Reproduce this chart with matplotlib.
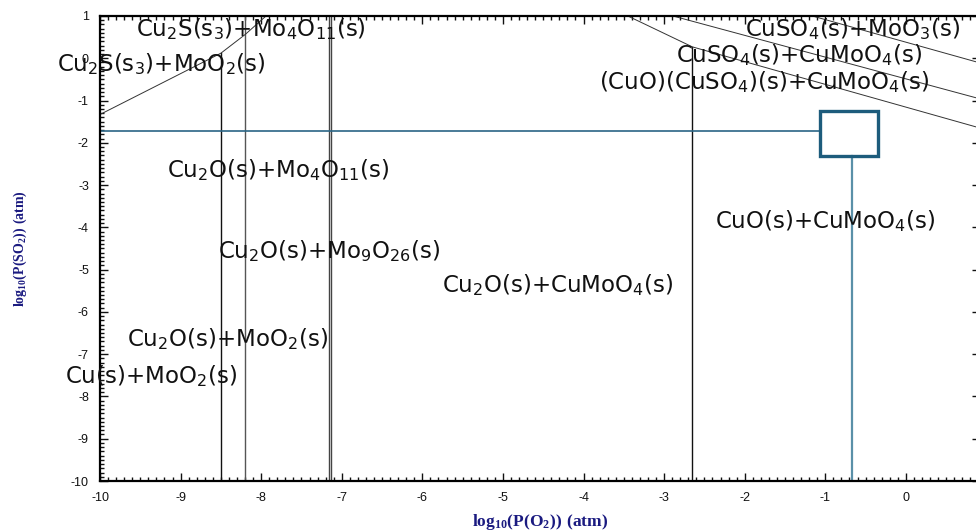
import numpy as np
import matplotlib.pyplot as plt
from matplotlib.ticker import MultipleLocator

plt.rcParams['font.family'] = ['Liberation Sans', 'DejaVu Sans']
plt.rcParams['axes.unicode_minus'] = False
plt.rcParams['mathtext.fontset'] = 'custom'
plt.rcParams['mathtext.rm'] = 'DejaVu Sans'
plt.rcParams['mathtext.sf'] = 'DejaVu Sans'
plt.rcParams['mathtext.it'] = 'DejaVu Sans'
plt.rcParams['mathtext.bf'] = 'Liberation Serif:bold'

# phase boundaries (log10 pO2, log10 pSO2)
vert_x = [-8.5, -8.2, -7.155, -7.13, -2.65]
vert_top = [0.12, 1.0, 1.0, 1.0, 0.27]
vert_col = ['#111111', '#555555', '#444444', '#444444', '#111111']

b1_x = [-10, -8.5, -8.2, -7.94]
b1_y = [-1.33, 0.12, 0.56, 1.0]
bA_x = [-3.45, -2.65, 0.92]
bA_y = [1.0, 0.27, -1.65]
bB_x = [-2.89, 0.92]
bB_y = [1.0, -0.96]
bC_x = [-1.16, 0.92]
bC_y = [1.0, -0.11]

# operating point / box
so2_level = -1.72
o2_level = -0.67
box_x = [-1.07, -0.35]
box_y = [-2.32, -1.25]

labels = [r'Cu$_2$S(s$_3$)+Mo$_4$O$_{11}$(s)',
          r'Cu$_2$S(s$_3$)+MoO$_2$(s)',
          r'Cu$_2$O(s)+Mo$_4$O$_{11}$(s)',
          r'Cu$_2$O(s)+Mo$_9$O$_{26}$(s)',
          r'Cu$_2$O(s)+CuMoO$_4$(s)',
          r'Cu$_2$O(s)+MoO$_2$(s)',
          r'Cu(s)+MoO$_2$(s)',
          r'CuSO$_4$(s)+MoO$_3$(s)',
          r'CuSO$_4$(s)+CuMoO$_4$(s)',
          r'(CuO)(CuSO$_4$)(s)+CuMoO$_4$(s)',
          r'CuO(s)+CuMoO$_4$(s)']
lab_x = [-9.55, -10.53, -9.17, -8.53, -5.76, -9.66, -10.43, -2.0, -2.85, -3.81, -2.37]
lab_y = [0.69, -0.14, -2.65, -4.55, -5.37, -6.65, -7.51, 0.69, 0.08, -0.56, -3.86]

fig = plt.figure(figsize=(9.76, 5.31), dpi=100)
ax = fig.add_axes([100/976, 50/531, 880/976, 465/531])

for x, top, c in zip(vert_x, vert_top, vert_col):
    ax.plot([x, x], [-10, top], color=c, lw=1.0)

for xs, ys in [(b1_x, b1_y), (bA_x, bA_y), (bB_x, bB_y), (bC_x, bC_y)]:
    ax.plot(xs, ys, color='#333333', lw=0.7)

ax.plot([-10, box_x[0]], [so2_level, so2_level], color='#2a6585', lw=1.2)
ax.plot([o2_level, o2_level], [-10, box_y[0]], color='#5a90a8', lw=1.6)
ax.add_patch(plt.Rectangle((box_x[0], box_y[0]), box_x[1]-box_x[0], box_y[1]-box_y[0],
                           fill=False, edgecolor='#1d5c7c', lw=2.4, zorder=5))

for t, x, y in zip(labels, lab_x, lab_y):
    ax.text(x, y, t, fontsize=16.5, ha='left', va='center', color='#111111',
            family='DejaVu Sans', clip_on=False)

ax.set_xlim(-10, 0.92)
ax.set_ylim(-10, 1)
ax.xaxis.set_major_locator(MultipleLocator(1))
ax.xaxis.set_minor_locator(MultipleLocator(0.1))
ax.yaxis.set_major_locator(MultipleLocator(1))
ax.yaxis.set_minor_locator(MultipleLocator(0.1))
ax.tick_params(which='both', direction='in', top=True, right=True, colors='#111111',
               labelsize=9, width=1)
ax.tick_params(which='major', length=6, pad=8)
ax.tick_params(which='minor', length=3)
for s in ax.spines.values():
    s.set_linewidth(1.6)

ax.set_xlabel(r'$\mathbf{log_{10}(P(O_2))\ (atm)}$', fontsize=12.5, color='#1a1a80', labelpad=6)
ax.set_ylabel(r'$\mathbf{log_{10}(P(SO_2))\ (atm)}$', fontsize=10, color='#1a1a80', labelpad=30)

fig.savefig('out.png', dpi=100)
